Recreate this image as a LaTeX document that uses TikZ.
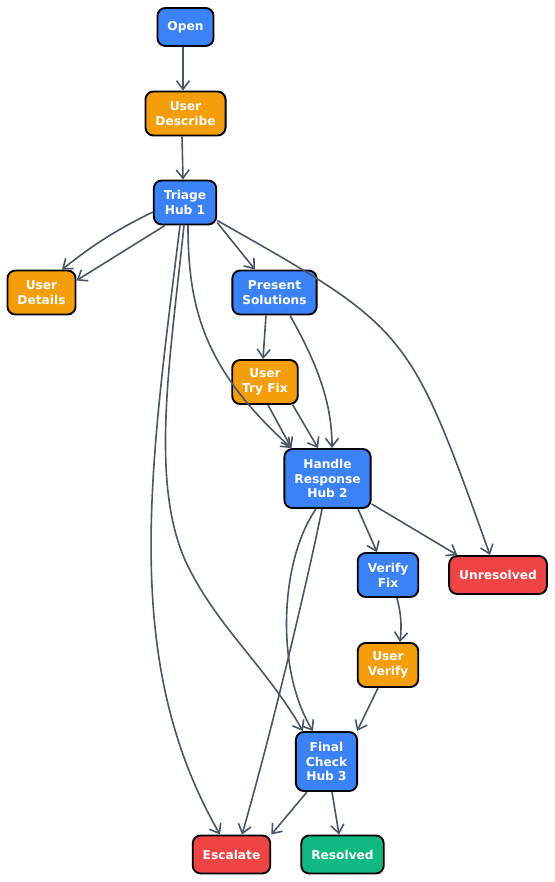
\documentclass[tikz,border=0pt]{standalone}
\usepackage{fontspec}
\setmainfont{DejaVu Sans}
\usetikzlibrary{arrows.meta,positioning}
\definecolor{fblue}{HTML}{3B82F6}
\definecolor{forange}{HTML}{F59E0B}
\definecolor{fred}{HTML}{EF4444}
\definecolor{fgreen}{HTML}{10B981}
\definecolor{fedge}{HTML}{4A5568}
\tikzset{
 box/.style={draw=black, line width=1.9pt, rounded corners=8pt, text=white,
  font=\fontsize{12.2}{14.8}\selectfont\bfseries, align=center, inner xsep=10pt, inner ysep=0pt},
 oneline/.style={box, minimum height=38pt},
 twoline/.style={box, minimum height=44pt},
 threeline/.style={box, minimum height=59pt},
 link/.style={draw=fedge, line width=1.6pt, -{Straight Barb[length=8.5pt,width=13pt]}}
}
\begin{document}
\begin{tikzpicture}[x=1pt, y=-1pt]
 \useasboundingbox (0,0) rectangle (554,882);
 \node[oneline, fill=fblue] (open) at (185.5,27) {Open};
 \node[twoline, fill=forange] (describe) at (185.5,113.5) {User\\Describe};
 \node[twoline, fill=fblue] (triage) at (185,202.5) {Triage\\Hub 1};
 \node[twoline, fill=forange] (details) at (41.5,292.5) {User\\Details};
 \node[twoline, fill=fblue] (present) at (274.5,292.5) {Present\\Solutions};
 \node[twoline, fill=forange] (tryfix) at (265,382) {User\\Try Fix};
 \node[threeline, fill=fblue] (handle) at (327.5,478.5) {Handle\\Response\\Hub 2};
 \node[twoline, fill=fblue] (verify) at (388,575) {Verify\\Fix};
 \node[oneline, fill=fred] (unresolved) at (498,575) {Unresolved};
 \node[twoline, fill=forange] (userverify) at (388,665) {User\\Verify};
 \node[threeline, fill=fblue] (final) at (326.5,761.5) {Final\\Check\\Hub 3};
 \node[oneline, fill=fred] (escalate) at (231.5,854.5) {Escalate};
 \node[oneline, fill=fgreen] (resolved) at (342.5,854.5) {Resolved};

 \draw[link] ([xshift=-2.5pt]open.south) -- ([xshift=-2.5pt]describe.north);
 \draw[link] ([xshift=-3.5pt]describe.south) -- ([xshift=-2pt]triage.north);
 \draw[link] ([yshift=-9.5pt]triage.west) to[bend right=6] ([xshift=20.5pt]details.north);
 \draw[link] ([xshift=-20pt]triage.south) -- ([yshift=12pt]details.east);
 \draw[link] ([yshift=3pt]triage.south east) -- ([xshift=-19.5pt]present.north);
 \draw[link] ([yshift=5pt]triage.south east) .. controls (409,329) .. ([xshift=-8pt]unresolved.north);
 \draw[link] ([xshift=3pt]triage.south) .. controls (188,310) and (205,370) .. ([xshift=8pt]handle.north west);
 \draw[link] ([xshift=-5pt]triage.south) .. controls (150,470) and (120,660) .. ([xshift=-11.5pt]escalate.north);
 \draw[link] ([xshift=-1pt]triage.south) .. controls (170,360) and (150,480) .. (185,560)
  .. controls (215,625) and (265,665) .. ([xshift=8pt]final.north west);
 \draw[link] ([xshift=-8.5pt]present.south) -- ([xshift=-2pt]tryfix.north);
 \draw[link] ([xshift=15.5pt]present.south) .. controls (315,360) and (332,400) .. ([xshift=4.5pt]handle.north);
 \draw[link] ([xshift=3pt]tryfix.south) -- ([xshift=8pt]handle.north west);
 \draw[link] ([xshift=-6pt]tryfix.south east) -- ([xshift=-9.5pt]handle.north);
 \draw[link] ([xshift=30.5pt]handle.south) -- ([xshift=-11pt]verify.north);
 \draw[link] ([yshift=5pt]handle.south east) -- ([xshift=9pt]unresolved.north west);
 \draw[link] ([xshift=-11.5pt]handle.south) .. controls (280,560) and (275,670) .. ([xshift=-13.5pt]final.north);
 \draw[link] ([xshift=-5.5pt]handle.south) .. controls (312,560) and (275,720) .. ([xshift=10.5pt]escalate.north);
 \draw[link] ([xshift=9pt]verify.south) to[bend left=10] ([xshift=12pt]userverify.north);
 \draw[link] ([xshift=-10pt]userverify.south) -- ([xshift=-1pt]final.north east);
 \draw[link] ([xshift=-19.5pt]final.south) -- (escalate.north east);
 \draw[link] ([xshift=5.5pt]final.south) -- ([xshift=-3.5pt]resolved.north);
\end{tikzpicture}
\end{document}
